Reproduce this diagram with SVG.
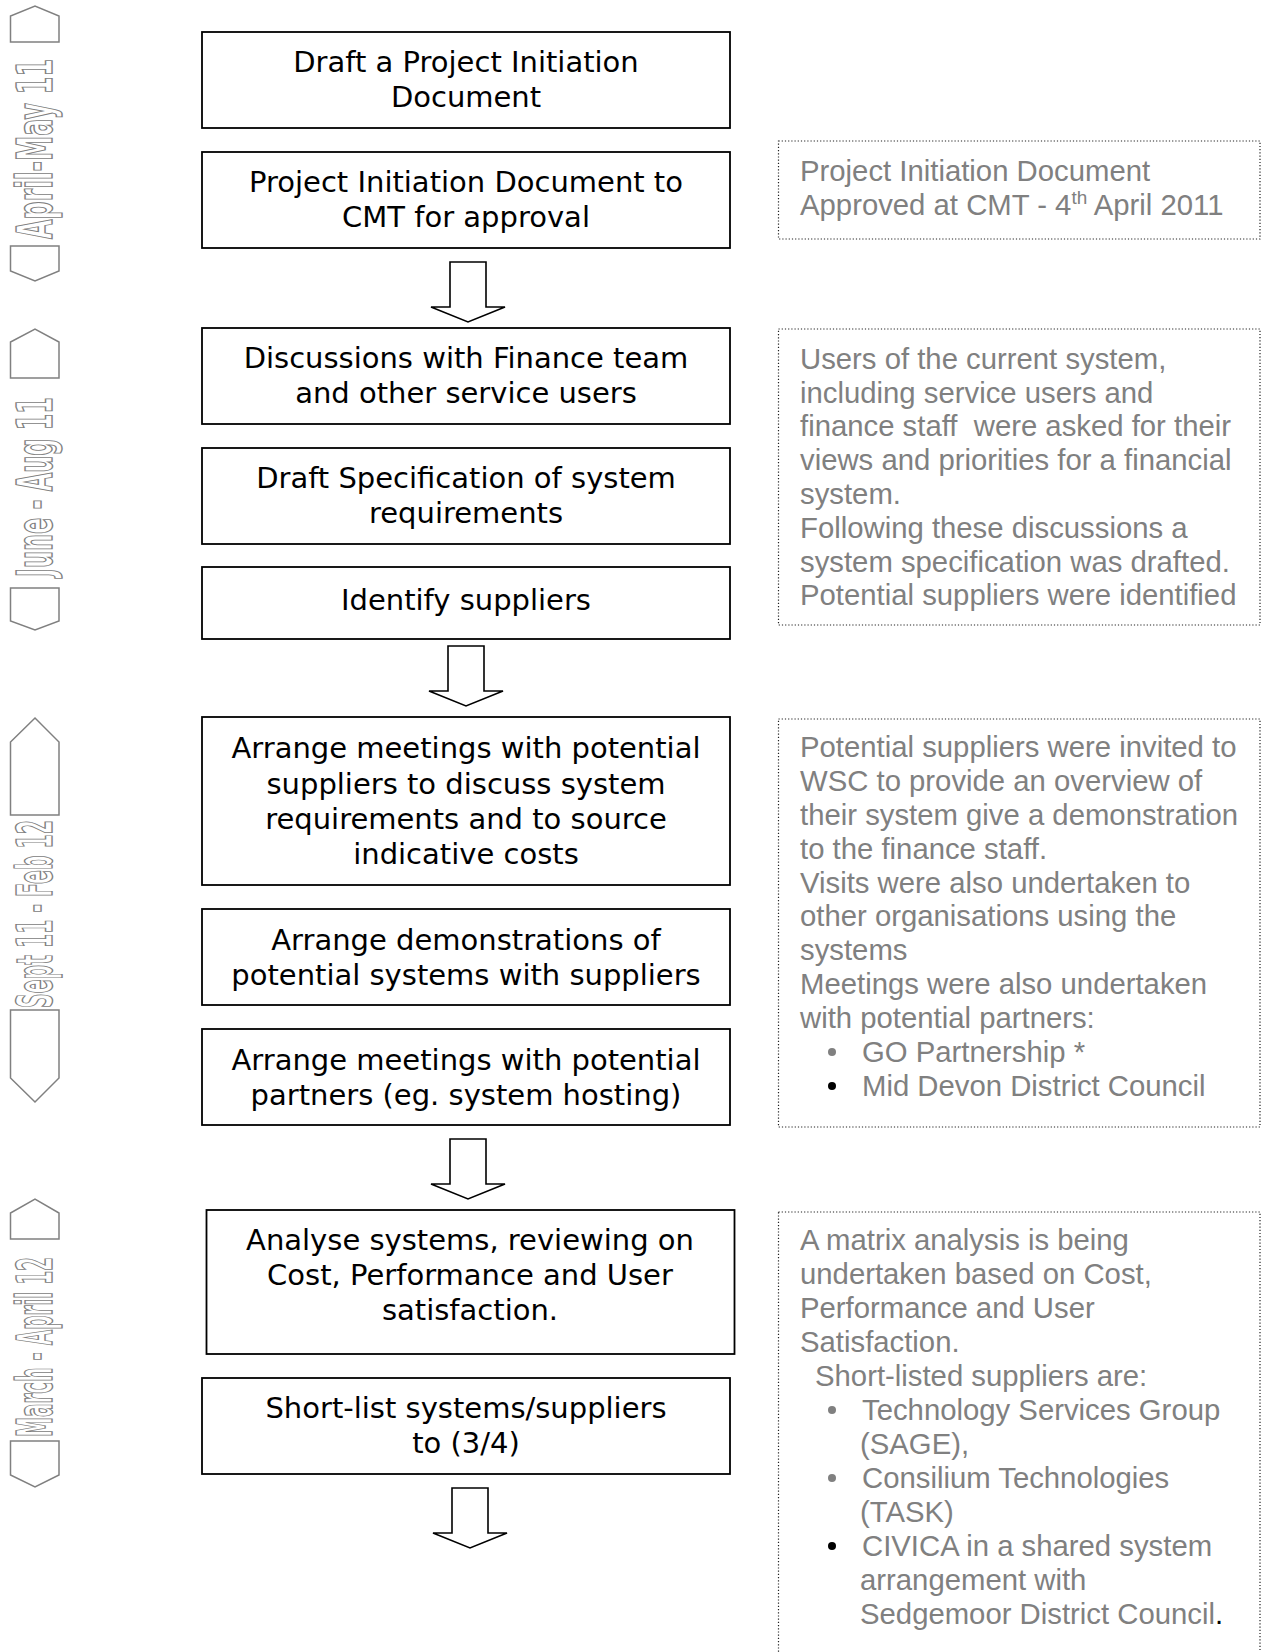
<svg xmlns="http://www.w3.org/2000/svg" width="1263" height="1652" viewBox="0 0 1263 1652">
<style>
.box{fill:#fff;stroke:#000;stroke-width:1.8}
.bt{font-family:"DejaVu Sans",Verdana,sans-serif;font-size:29px;fill:#000;text-anchor:middle}
.note{fill:#fff;stroke:#222;stroke-width:1.2;stroke-dasharray:1.2 2}
.nt{font-family:"Liberation Sans",Arial,sans-serif;font-size:29.3px;fill:#808080}
.arrow{fill:#fff;stroke:#000;stroke-width:1.6;stroke-linejoin:miter}
.tag{fill:#fff;stroke:#808080;stroke-width:1.5}
.tt{font-family:"Liberation Sans Narrow","DejaVu Sans Condensed",sans-serif;font-weight:bold;font-size:50px;fill:#fff;stroke:#808080;stroke-width:1.4}
</style>
<rect width="1263" height="1652" fill="#fff"/>

<g id="period-labels">
<g id="label-april-may-11">
<path class="tag" d="M10.5,42 V16 L35,6 L59,16 V42 Z"/>
<text class="tt" transform="translate(52,239) rotate(-90)" textLength="180" lengthAdjust="spacingAndGlyphs">April-May 11</text>
<path class="tag" d="M10.5,246 H59 V271 L35,281 L10.5,271 Z"/>
</g>
<g id="label-june-aug-11">
<path class="tag" d="M10.5,378 V342 L35,329 L59,342 V378 Z"/>
<text class="tt" transform="translate(52,577) rotate(-90)" textLength="180" lengthAdjust="spacingAndGlyphs">June - Aug 11</text>
<path class="tag" d="M10.5,588 H59 V621 L35,630 L10.5,621 Z"/>
</g>
<g id="label-sept-feb">
<path class="tag" d="M10.5,815 V742 L35,718 L59,742 V815 Z"/>
<text class="tt" transform="translate(52,1008) rotate(-90)" textLength="188" lengthAdjust="spacingAndGlyphs">Sept 11 - Feb 12</text>
<path class="tag" d="M10.5,1010 H59 V1078 L35,1102 L10.5,1078 Z"/>
</g>
<g id="label-march-april-12">
<path class="tag" d="M10.5,1239 V1213 L35,1199 L59,1213 V1239 Z"/>
<text class="tt" transform="translate(52,1437) rotate(-90)" textLength="180" lengthAdjust="spacingAndGlyphs">March - April 12</text>
<path class="tag" d="M10.5,1441 H59 V1475 L35,1487 L10.5,1475 Z"/>
</g>
</g>

<g id="connectors">
<path class="arrow" d="M450,262 V307 H431 L468,322 L505,307 H486 V262 Z"/>
<path class="arrow" d="M448,646 V691 H429 L466,706 L503,691 H484 V646 Z"/>
<path class="arrow" d="M450,1139 V1184 H431 L468,1199 L505,1184 H486 V1139 Z"/>
<path class="arrow" d="M452,1488 V1533 H433 L470,1548 L507,1533 H488 V1488 Z"/>
</g>

<g id="n1">
<rect class="box" x="202" y="32" width="528" height="96"/>
<text class="bt" x="466" y="72">Draft a Project Initiation</text>
<text class="bt" x="466" y="107">Document</text>
</g>
<g id="n2">
<rect class="box" x="202" y="152" width="528" height="96"/>
<text class="bt" x="466" y="192">Project Initiation Document to</text>
<text class="bt" x="466" y="227">CMT for approval</text>
</g>
<g id="n3">
<rect class="box" x="202" y="328" width="528" height="96"/>
<text class="bt" x="466" y="368">Discussions with Finance team</text>
<text class="bt" x="466" y="403">and other service users</text>
</g>
<g id="n4">
<rect class="box" x="202" y="448" width="528" height="96"/>
<text class="bt" x="466" y="488">Draft Specification of system</text>
<text class="bt" x="466" y="523">requirements</text>
</g>
<g id="n5">
<rect class="box" x="202" y="567" width="528" height="72"/>
<text class="bt" x="466" y="610">Identify suppliers</text>
</g>
<g id="n6">
<rect class="box" x="202" y="717" width="528" height="168"/>
<text class="bt" x="466" y="758">Arrange meetings with potential</text>
<text class="bt" x="466" y="794">suppliers to discuss system</text>
<text class="bt" x="466" y="829">requirements and to source</text>
<text class="bt" x="466" y="864">indicative costs</text>
</g>
<g id="n7">
<rect class="box" x="202" y="909" width="528" height="96"/>
<text class="bt" x="466" y="950">Arrange demonstrations of</text>
<text class="bt" x="466" y="985">potential systems with suppliers</text>
</g>
<g id="n8">
<rect class="box" x="202" y="1029" width="528" height="96"/>
<text class="bt" x="466" y="1070">Arrange meetings with potential</text>
<text class="bt" x="466" y="1105">partners (eg. system hosting)</text>
</g>
<g id="n9">
<rect class="box" x="206.5" y="1210" width="528" height="144"/>
<text class="bt" x="470" y="1250">Analyse systems, reviewing on</text>
<text class="bt" x="470" y="1285">Cost, Performance and User</text>
<text class="bt" x="470" y="1320">satisfaction.</text>
</g>
<g id="n10">
<rect class="box" x="202" y="1378" width="528" height="96"/>
<text class="bt" x="466" y="1418">Short-list systems/suppliers</text>
<text class="bt" x="466" y="1453">to (3/4)</text>
</g>

<g id="note1">
<rect class="note" x="778.5" y="141" width="481.5" height="98"/>
<text class="nt" x="800" y="181">Project Initiation Document</text>
<text class="nt" x="800" y="215">Approved at CMT - 4<tspan font-size="19" dy="-11">th</tspan><tspan dy="11"> April 2011</tspan></text>
</g>
<g id="note2">
<rect class="note" x="778.5" y="329" width="481.5" height="296"/>
<text class="nt" x="800" y="369">Users of the current system,</text>
<text class="nt" x="800" y="403">including service users and</text>
<text class="nt" x="800" y="436">finance staff&#160; were asked for their</text>
<text class="nt" x="800" y="470">views and priorities for a financial</text>
<text class="nt" x="800" y="504">system.</text>
<text class="nt" x="800" y="538">Following these discussions a</text>
<text class="nt" x="800" y="572">system specification was drafted.</text>
<text class="nt" x="800" y="605">Potential suppliers were identified</text>
</g>
<g id="note3">
<rect class="note" x="778.5" y="719" width="481.5" height="408"/>
<text class="nt" x="800" y="757">Potential suppliers were invited to</text>
<text class="nt" x="800" y="791">WSC to provide an overview of</text>
<text class="nt" x="800" y="825">their system give a demonstration</text>
<text class="nt" x="800" y="859">to the finance staff.</text>
<text class="nt" x="800" y="893">Visits were also undertaken to</text>
<text class="nt" x="800" y="926">other organisations using the</text>
<text class="nt" x="800" y="960">systems</text>
<text class="nt" x="800" y="994">Meetings were also undertaken</text>
<text class="nt" x="800" y="1028">with potential partners:</text>
<circle cx="832" cy="1052" r="4" fill="#808080"/>
<text class="nt" x="862" y="1062">GO Partnership *</text>
<circle cx="832" cy="1086" r="4" fill="#000"/>
<text class="nt" x="862" y="1096">Mid Devon District Council</text>
</g>
<g id="note4">
<rect class="note" x="778.5" y="1212" width="481.5" height="460"/>
<text class="nt" x="800" y="1250">A matrix analysis is being</text>
<text class="nt" x="800" y="1284">undertaken based on Cost,</text>
<text class="nt" x="800" y="1318">Performance and User</text>
<text class="nt" x="800" y="1352">Satisfaction.</text>
<text class="nt" x="815" y="1386">Short-listed suppliers are:</text>
<circle cx="832" cy="1410" r="4" fill="#808080"/>
<text class="nt" x="862" y="1420">Technology Services Group</text>
<text class="nt" x="860" y="1454">(SAGE),</text>
<circle cx="832" cy="1478" r="4" fill="#808080"/>
<text class="nt" x="862" y="1488">Consilium Technologies</text>
<text class="nt" x="860" y="1522">(TASK)</text>
<circle cx="832" cy="1546" r="4" fill="#000"/>
<text class="nt" x="862" y="1556">CIVICA in a shared system</text>
<text class="nt" x="860" y="1590">arrangement with</text>
<text class="nt" x="860" y="1624">Sedgemoor District Council<tspan fill="#000">.</tspan></text>
</g>
</svg>
